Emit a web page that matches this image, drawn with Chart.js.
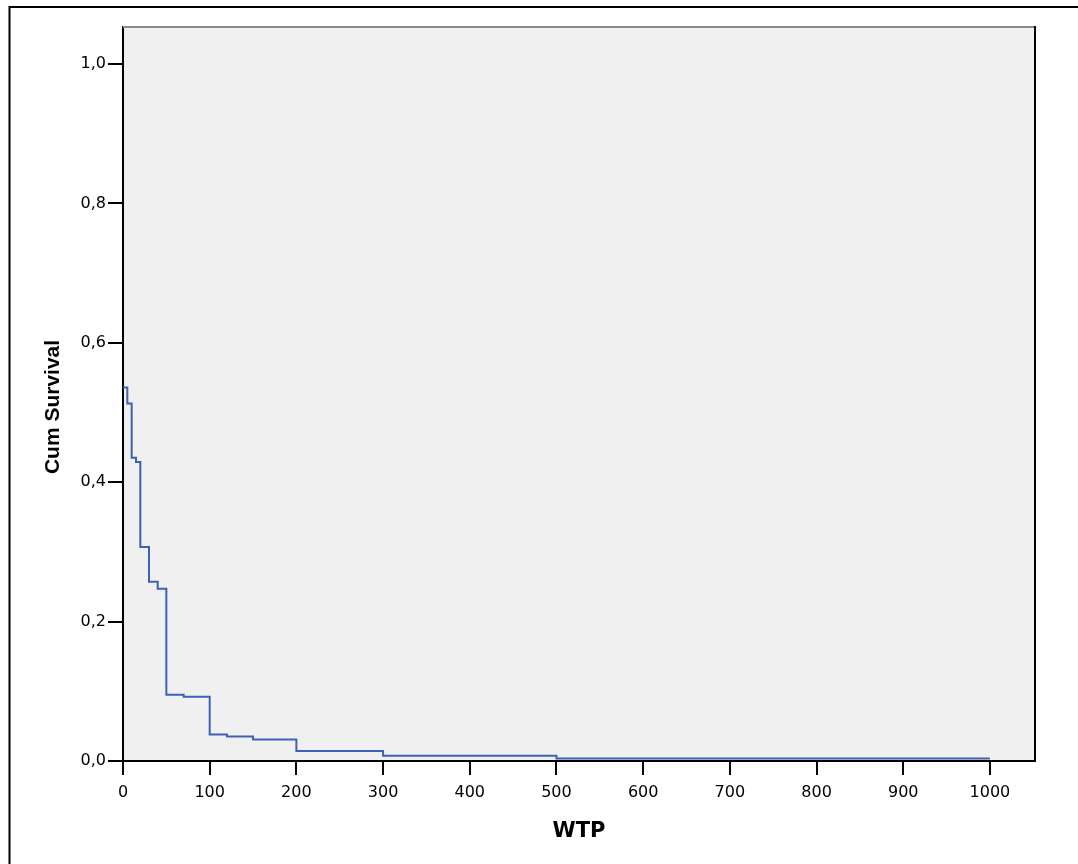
<!DOCTYPE html>
<html>
<head>
<meta charset="utf-8">
<title>Cum Survival – WTP</title>
<script src="https://cdn.jsdelivr.net/npm/chart.js@4.4.1/dist/chart.umd.min.js"></script>
<style>
  html, body { margin: 0; padding: 0; background: #ffffff; }
  #wrap { width: 1078px; height: 864px; }
</style>
</head>
<body>
<div id="wrap"><canvas id="km" width="1078" height="864"></canvas></div>
<script>
// Kaplan–Meier survival estimate by willingness to pay
const wtpTimes     = [0, 5, 10, 15, 20, 30, 40, 50, 70, 100, 120, 150, 200, 300, 500, 1000];
const cumSurvival  = [0.536, 0.513, 0.435, 0.429, 0.307, 0.257, 0.247, 0.095, 0.092, 0.038, 0.035, 0.031, 0.0143, 0.0076, 0.0036, 0.0036];

const xTickValues = [0, 100, 200, 300, 400, 500, 600, 700, 800, 900, 1000];
const yTickValues = [0, 0.2, 0.4, 0.6, 0.8, 1.0];

const xAxisTitle = 'WTP';
const yAxisTitle = 'Cum Survival';

const points = wtpTimes.map((t, i) => ({ x: t, y: cumSurvival[i] }));

// Page frame, grey plot background, upper/right plot edges and the vertical axis caption
const decorations = {
  id: 'decorations',
  beforeDraw(chart) {
    const { ctx, chartArea: a } = chart;
    ctx.save();
    ctx.fillStyle = '#ffffff';
    ctx.fillRect(0, 0, chart.width, chart.height);
    ctx.strokeStyle = '#000000';
    ctx.lineWidth = 2;
    ctx.strokeRect(9.5, 7, chart.width + 50, chart.height + 50);
    ctx.fillStyle = '#f0f0f0';
    ctx.fillRect(a.left, a.top, a.right - a.left, a.bottom - a.top);
    ctx.restore();
  },
  afterDraw(chart) {
    const { ctx, chartArea: a } = chart;
    ctx.save();
    ctx.lineWidth = 2;
    ctx.strokeStyle = '#8a8a8a';
    ctx.beginPath();
    ctx.moveTo(a.left, a.top);
    ctx.lineTo(a.right, a.top);
    ctx.stroke();
    ctx.strokeStyle = '#000000';
    ctx.beginPath();
    ctx.moveTo(a.right, a.top - 1);
    ctx.lineTo(a.right, a.bottom);
    ctx.stroke();

    ctx.translate(53, 407);
    ctx.rotate(-Math.PI / 2);
    ctx.fillStyle = '#000000';
    ctx.font = 'bold 21px "Liberation Sans", Arial, sans-serif';
    ctx.textAlign = 'center';
    ctx.textBaseline = 'middle';
    ctx.fillText(yAxisTitle, 0, 0);
    ctx.restore();
  }
};

new Chart(document.getElementById('km'), {
  type: 'line',
  data: {
    datasets: [{
      data: points,
      stepped: 'before',
      borderColor: '#4060b8',
      borderWidth: 2,
      pointRadius: 0,
      fill: false,
      tension: 0
    }]
  },
  options: {
    responsive: false,
    devicePixelRatio: 1,
    animation: false,
    layout: { padding: { top: 27, right: 43, left: 0, bottom: 0 } },
    plugins: { legend: { display: false }, tooltip: { enabled: false } },
    scales: {
      x: {
        type: 'linear',
        min: 0,
        max: 1052,
        afterBuildTicks: s => { s.ticks = xTickValues.map(v => ({ value: v })); },
        afterFit: s => { s.height = 103; },
        grid: { drawOnChartArea: false, drawTicks: true, tickLength: 14, color: '#000000', lineWidth: 2 },
        border: { display: true, color: '#000000', width: 2 },
        ticks: {
          color: '#000000',
          padding: 8,
          maxRotation: 0,
          autoSkip: false,
          font: { family: '"DejaVu Sans", sans-serif', size: 16 },
          callback: v => String(v)
        },
        title: {
          display: true,
          text: xAxisTitle,
          color: '#000000',
          font: { family: '"DejaVu Sans", sans-serif', size: 21, weight: 'bold' },
          padding: { top: 0, bottom: 20 }
        }
      },
      y: {
        type: 'linear',
        min: 0,
        max: 1.053,
        afterBuildTicks: s => { s.ticks = yTickValues.map(v => ({ value: v })); },
        afterFit: s => { s.width = 123; },
        grid: { drawOnChartArea: false, drawTicks: true, tickLength: 15, color: '#000000', lineWidth: 2 },
        border: { display: true, color: '#000000', width: 2 },
        ticks: {
          color: '#000000',
          padding: 2,
          autoSkip: false,
          font: { family: '"DejaVu Sans", sans-serif', size: 16 },
          callback: v => v.toFixed(1).replace('.', ',')
        }
      }
    }
  },
  plugins: [decorations]
});
</script>
</body>
</html>
